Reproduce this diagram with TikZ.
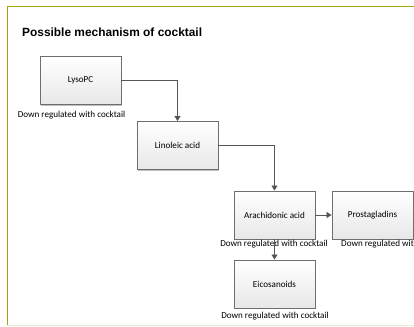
\documentclass[tikz,border=0pt]{standalone}
\usepackage{fontspec}
\setmainfont{Carlito}
\newfontfamily\titlefont{Liberation Sans}
\usetikzlibrary{arrows.meta,shadows}
\definecolor{frameol}{HTML}{A3A30A}
\definecolor{framelt}{HTML}{E9EDD2}
\definecolor{boxedge}{HTML}{6E6E6E}
\definecolor{arrowc}{HTML}{555555}
\tikzset{
  stepbox/.style={draw=boxedge, line width=0.9pt, top color=white, bottom color=black!9,
    minimum width=81pt, minimum height=48pt, inner sep=0pt, font=\fontsize{9.1}{11}\selectfont,
    drop shadow={shadow xshift=1pt, shadow yshift=-1pt, opacity=0.25, fill=black}},
  note/.style={font=\fontsize{9.1}{11}\selectfont, inner sep=0pt, anchor=center},
  conn/.style={draw=arrowc, line width=0.8pt, -{Triangle[length=5pt,width=6pt]}}
}
\begin{document}
\begin{tikzpicture}[x=1pt,y=-1pt]
\useasboundingbox (0,0) rectangle (414,326);
\clip (0,0) rectangle (414,326);
\fill[white] (0,0) rectangle (414,326);
% frame
\draw[framelt, line width=1pt] (7,325) -- (414,325);
\draw[frameol, line width=1pt] (7,325) -- (7,7) -- (414,7);
% title
\node[anchor=west, inner sep=0pt, font=\titlefont\bfseries\fontsize{11.9}{13}\selectfont] (title) at (22,32) {Possible mechanism of cocktail};
% boxes
\node[stepbox] (lyso) at (80.5,80.5) {LysoPC};
\node[stepbox] (lino) at (177.5,145.5) {Linoleic acid};
\node[stepbox] (arach) at (274.5,215) {Arachidonic acid};
\node[stepbox] (prosta) at (372.5,215) {Prostagladins};
\node[stepbox] (eico) at (274.5,284) {Eicosanoids};
% notes
\node[note] (n1) at (71.5,115) {Down regulated with cocktail};
\node[note] (n2) at (274,244.5) {Down regulated with cocktail};
\node[note, anchor=west] (n3) at (341,244.5) {Down regulated with cocktail};
\node[note] (n4) at (275,316) {Down regulated with cocktail};
% connectors
\draw[conn] (lyso.east) -| (lino.north);
\draw[conn] (lino.east) -| (arach.north);
\draw[conn] (arach.east) -- (prosta.west);
\draw[conn] (arach.south) -- (eico.north);
\end{tikzpicture}
\end{document}
